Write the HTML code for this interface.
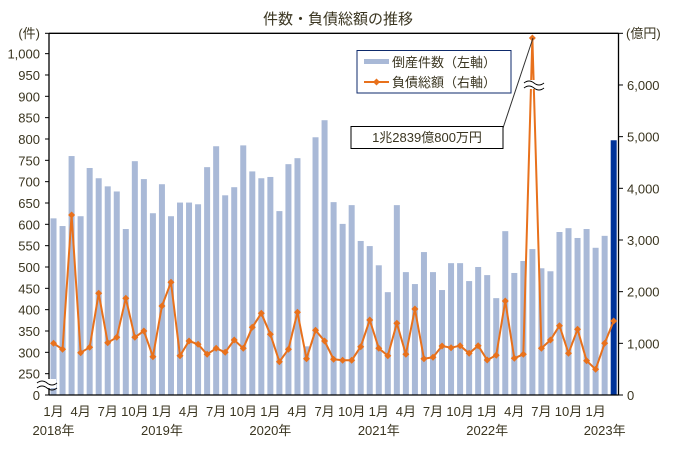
<!DOCTYPE html>
<html><head><meta charset="utf-8"><style>
body{margin:0;background:#fff;}
svg text{font-family:"Liberation Sans","Noto Sans CJK JP",sans-serif;fill:#3a3520;}
</style></head><body>
<svg id="s" width="676" height="444" xmlns="http://www.w3.org/2000/svg">
<rect width="676" height="444" fill="#fff"/>
<text x="338" y="24" font-size="15" text-anchor="middle">件数・負債総額の推移</text>
<g id="bars"></g>
<g id="line"></g>
<line x1="49" y1="33.3" x2="618.5" y2="33.3" stroke="#000" stroke-width="1.3"/>
<line x1="49" y1="33" x2="49" y2="395.5" stroke="#000" stroke-width="1.3"/>
<line x1="618.5" y1="33" x2="618.5" y2="395.5" stroke="#000" stroke-width="1.3"/>
<line x1="49" y1="395" x2="618.5" y2="395" stroke="#000" stroke-width="1.3"/>
<g id="ax" font-size="13"></g>
<!-- break symbols -->
<g fill="none" stroke="#000" stroke-width="1">
<path d="M37 381 q5 -4 10 0 t10 0" fill="#fff" stroke="none"/>
<rect x="36" y="379" width="20" height="9" fill="#fff" stroke="none"/>
<path d="M37 383 q5 -4 10 0 t10 0"/><path d="M37 388 q5 -4 10 0 t10 0"/>
<rect x="524" y="80" width="20" height="9" fill="#fff" stroke="none"/>
<path d="M524 83 q5 -4 10 0 t10 0"/><path d="M524 88 q5 -4 10 0 t10 0"/>
</g>
<!-- legend -->
<rect x="357" y="50.5" width="154" height="42.5" fill="#fff" stroke="#0e2a6b" stroke-width="1"/>
<rect x="364" y="59" width="25" height="5" fill="#a9b9d7"/>
<text x="392" y="67" font-size="13">倒産件数（左軸）</text>
<line x1="364" y1="82" x2="389" y2="82" stroke="#e8711c" stroke-width="2"/>
<path d="M376.5 78.5 l3.5 3.5 l-3.5 3.5 l-3.5 -3.5z" fill="#e8711c"/>
<text x="392" y="87" font-size="13">負債総額（右軸）</text>
<!-- annotation -->
<line x1="503" y1="128" x2="533" y2="38" stroke="#333" stroke-width="1"/>
<rect x="351" y="126.5" width="152" height="22" fill="#fff" stroke="#000" stroke-width="1"/>
<text x="427" y="142" font-size="13" text-anchor="middle">1兆2839億800万円</text>
</svg>
<script>
const NS="http://www.w3.org/2000/svg";
function el(p,t,a,txt){const e=document.createElementNS(NS,t);for(const k in a)e.setAttribute(k,a[k]);if(txt!==undefined)e.textContent=txt;p.appendChild(e);return e;}
const bars=[614,596,760,619,732,708,689,677,589,748,706,626,694,619,651,651,647,734,783,668,687,785,724,708,
711,631,741,755,314,804,844,652,601,645,561,549,504,441,645,488,460,535,488,446,509,509,467,500,
481,427,584,486,514,542,497,490,582,591,568,589,545,573,797];
const ly=[343.3,349.3,215,352.7,347.3,293.3,342.7,337.3,298.3,337.3,331,356.7,306,282.3,355.7,341,344.3,354.3,348.3,352.3,340,348.3,327.3,313.3,334.3,361.7,349.3,312.3,358.7,330.3,341,359.3,
360.3,360.3,346.7,320,348.3,355.7,323.3,354.3,309,358.7,357.3,346,347.7,345.7,353.3,345.7,360,355.3,301,358.3,354.3,38,348.3,340,325.7,353.3,329.3,360.7,369.3,343.3,321];
const cx=i=>49+9.035*(i+0.5);
function vy(v){return v>=250?373.67-(v-250)*0.4267:395-v*21.33/250;}
const gb=document.getElementById('bars');
bars.forEach((v,i)=>{const y=vy(v);el(gb,'rect',{x:cx(i)-3,y:y,width:6,height:395-y,fill:i==62?'#003399':'#a9b9d7'});});
const gl=document.getElementById('line');
el(gl,'polyline',{points:ly.map((y,i)=>cx(i)+','+y).join(' '),fill:'none',stroke:'#e8711c','stroke-width':2,'stroke-linejoin':'round'});
ly.forEach((y,i)=>el(gl,'path',{d:`M${cx(i)} ${y-3.5} l3.5 3.5 l-3.5 3.5 l-3.5 -3.5z`,fill:'#e8711c'}));
const ax=document.getElementById('ax');
el(ax,'text',{x:40,y:38,'text-anchor':'end'},'(件)');
for(let v=250;v<=1000;v+=50){const y=vy(v);el(ax,'line',{x1:45,y1:y,x2:49,y2:y,stroke:'#000'});el(ax,'text',{x:40,y:y+5,'text-anchor':'end'},v>=1000?'1,000':v);}
el(ax,'line',{x1:45,y1:395,x2:49,y2:395,stroke:'#000'});el(ax,'text',{x:40,y:400,'text-anchor':'end'},'0');
el(ax,'line',{x1:45,y1:33.3,x2:49,y2:33.3,stroke:'#000'});
for(let k=0;k<=7;k++){const y=395-k*51.67;el(ax,'line',{x1:618.5,y1:y,x2:623,y2:y,stroke:'#000'});if(k<7)el(ax,'text',{x:627,y:y+5},k==0?'0':k+',000');}
el(ax,'text',{x:626,y:38},'(億円)');
for(let i=0;i<63;i+=3){const m=(i%12)+1;el(ax,'text',{x:cx(i),y:416,'text-anchor':'middle'},m+'月');}
[[0,'2018年'],[12,'2019年'],[24,'2020年'],[36,'2021年'],[48,'2022年'],[60,'2023年']].forEach(([i,t])=>{let x=cx(i);if(i==60)x=cx(61);el(ax,'text',{x:x,y:435,'text-anchor':'middle'},t);});
</script>
</body></html>
